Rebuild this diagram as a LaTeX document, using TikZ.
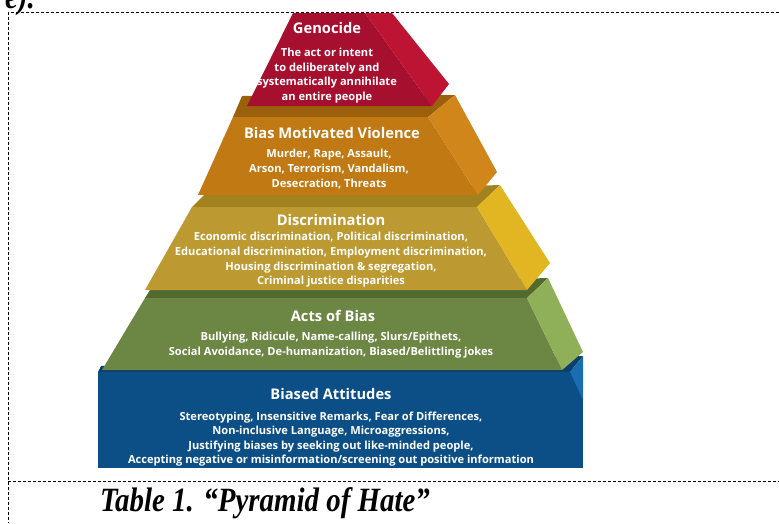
\documentclass[tikz,border=0pt]{standalone}
\usepackage{fontspec}
\setmainfont{Liberation Serif}
\newfontfamily\pyrfont{Open Sans}
\definecolor{redfront}{HTML}{A60F2E}
\definecolor{redside}{HTML}{BC1432}
\definecolor{orastrip}{HTML}{9A600C}
\definecolor{orafront}{HTML}{C07913}
\definecolor{oraside}{HTML}{D1861B}
\definecolor{yelstrip}{HTML}{A2821F}
\definecolor{yelfront}{HTML}{BD9A31}
\definecolor{yelside}{HTML}{E2B523}
\definecolor{grnstrip}{HTML}{52692F}
\definecolor{grnfront}{HTML}{6C8743}
\definecolor{grnside}{HTML}{8FAF59}
\definecolor{blustrip}{HTML}{0A3F6E}
\definecolor{blufront}{HTML}{0C4F86}
\definecolor{bluside}{HTML}{1A6DAE}
\begin{document}
\begin{tikzpicture}
  [x=1pt,y=-1pt,
  tiertitle/.style = {font=\pyrfont\bfseries\fontsize{14.7}{16}\selectfont,
                      text=white, inner sep=0pt},
  tieritems/.style = {font=\pyrfont\bfseries\fontsize{11.1}{14.6}\selectfont,
                      text=white, align=center, inner sep=0pt},
  frameline/.style = {dash pattern=on 3pt off 2pt, line width=0.7pt}]
  \useasboundingbox (0,0) rectangle (779,523);
  % Texto cortado arriba
  \node[anchor=base east,inner sep=0pt] (frag) at (35,8)
    {\fontsize{34}{36}\selectfont\scalebox{0.85}[1]{\bfseries\itshape e).}};
  % Marco
  \draw[frameline] (779,12.5) -- (8,12.5) -- (8,523);
  \draw[frameline] (8,481) -- (779,481);
  % Biased attitudes
  \fill[blustrip] (101,366) -- (583,356) -- (570,372) -- (98,372) -- cycle;
  \fill[blufront] (98,372) rectangle (583,468);
  \fill[bluside] (570,372) -- (583,356) -- (583,400) -- cycle;
  % Acts of bias
  \fill[grnstrip] (150,290) -- (548,278) -- (527,298) -- (145,298) -- cycle;
  \fill[grnfront] (145,298) -- (527,298) -- (562,370) -- (102,370) -- cycle;
  \fill[grnside] (527,298) -- (548,278) -- (583,352) -- (562,370) -- cycle;
  % Discrimination
  \fill[yelstrip] (204,195) -- (500,185) -- (477,207) -- (192,207) -- cycle;
  \fill[yelfront] (192,207) -- (477,207) -- (527,290) -- (145,290) -- cycle;
  \fill[yelside] (477,207) -- (500,185) -- (550,263) -- (527,290) -- cycle;
  % Bias motivated violence
  \fill[orastrip] (242,96) -- (455,95) -- (428,117) -- (233,117) -- cycle;
  \fill[orafront] (233,117) -- (428,117) -- (478,195) -- (198,195) -- cycle;
  \fill[oraside] (428,117) -- (455,95) -- (497,172) -- (478,195) -- cycle;
  % Genocide
  \fill[redfront] (247,106) -- (293,13) -- (365,13) -- (432,106) -- cycle;
  \fill[redside] (365,13) -- (392,13) -- (449,84) -- (432,106) -- cycle;
  % Textos de los niveles
  \node[tiertitle] (genT) at (327,28) {Genocide};
  \node[tieritems] (genI) at (327,75.5) {The act or intent\\to deliberately and\\
    systematically annihilate\\an entire people};
  \node[tiertitle] (bmvT) at (332,133) {Bias Motivated Violence};
  \node[tieritems] (bmvI) at (329,169) {Murder, Rape, Assault,\\
    Arson, Terrorism, Vandalism,\\Desecration, Threats};
  \node[tiertitle] (disT) at (331,220) {Discrimination};
  \node[tieritems] (disI) at (331,260) {Economic discrimination, Political discrimination,\\
    Educational discrimination, Employment discrimination,\\
    Housing discrimination \& segregation,\\Criminal justice disparities};
  \node[tiertitle] (aobT) at (333,316) {Acts of Bias};
  \node[tieritems] (aobI) at (331,345) {Bullying, Ridicule, Name-calling, Slurs/Epithets,\\
    Social Avoidance, De-humanization, Biased/Belittling jokes};
  \node[tiertitle] (batT) at (331,394) {Biased Attitudes};
  \node[tieritems] (batI) at (331,439) {Stereotyping, Insensitive Remarks, Fear of Differences,\\
    Non-inclusive Language, Microaggressions,\\
    Justifying biases by seeking out like-minded people,\\
    Accepting negative or misinformation/screening out positive information};
  % Leyenda
  \node[anchor=base west,inner sep=0pt] (cap) at (100,511)
    {\fontsize{34}{36}\selectfont\scalebox{0.85}[1]{\bfseries\itshape Table 1. ``Pyramid of Hate''}};
\end{tikzpicture}
\end{document}
